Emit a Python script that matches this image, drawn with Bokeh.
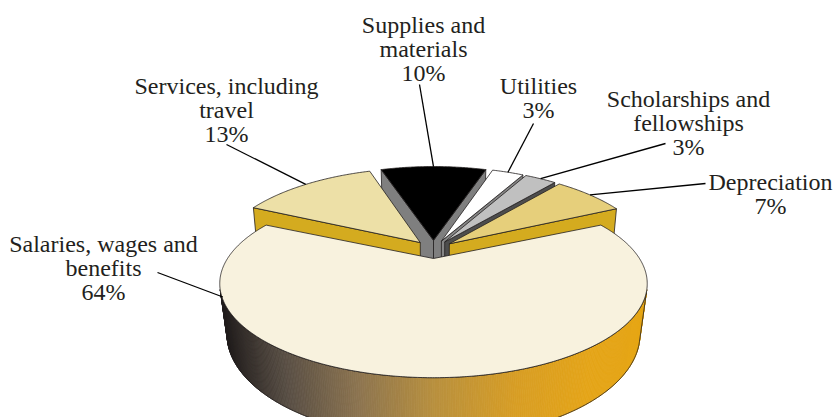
import numpy as np
from bokeh.plotting import figure
from bokeh.models import Range1d
from bokeh.core.properties import value
from bokeh.embed import file_html
from bokeh.resources import INLINE

# ---------------- data ----------------
categories = ["Salaries, wages and benefits", "Depreciation", "Scholarships and fellowships",
              "Utilities", "Supplies and materials", "Services, including travel"]
shares = [64, 7, 3, 3, 10, 13]
label_lines = [["Salaries, wages and", "benefits"], ["Depreciation"],
               ["Scholarships and", "fellowships"], ["Utilities"],
               ["Supplies and", "materials"], ["Services, including", "travel"]]

# ---------------- styles / layout ----------------
top_colors = ["#F8F2DE", "#E6CF7B", "#C0C0C0", "#FFFFFF", "#000000", "#EDE0A7"]
side_colors = [None, "#D4AB1F", "#4D4D4D", "#858585", "#7F7F7F", "#D4AB1F"]
grad_stops = [(0.0, (30, 26, 26)), (0.15, (88, 78, 68)), (0.32, (140, 116, 80)),
              (0.5, (184, 144, 63)), (0.7, (216, 158, 37)), (0.87, (228, 164, 24)),
              (1.0, (230, 166, 20))]
label_pos = [(103, 243), (770, 181), (688, 98), (538, 85), (423, 24), (226, 85)]
line_gap = 24
leader_start = [(157, 272), (705, 183), (665, 143), (533, 123), (419, 84), (226, 144)]
TEXT_COLOR = "#231f20"
EDGE = "#231f20"
EXPLODE = 0.1

# two projection settings: back slices (A) and the front, exploded big slice (B)
VIEW_A = dict(phi=np.radians(26.6), dist=4.7, F=955.0, cx=433.0, cy=248.8, h=0.25)
VIEW_B = dict(phi=np.radians(24.4), dist=3.503, F=702.8, cx=433.0, cy=249.5, h=0.27)


def proj(v, X, Y, Z):
    X = np.asarray(X, float); Y = np.asarray(Y, float); Z = np.asarray(Z, float)
    c, s = np.cos(v["phi"]), np.sin(v["phi"])
    depth = v["dist"] + Z * c - Y * s
    return v["cx"] + v["F"] * X / depth, v["cy"] - v["F"] * (Y * c + Z * s) / depth


def cam_z(v):
    return -v["dist"] * np.cos(v["phi"])


def lerp_color(t):
    t = min(max(t, 0.0), 1.0)
    for (t0, c0), (t1, c1) in zip(grad_stops[:-1], grad_stops[1:]):
        if t <= t1:
            u = (t - t0) / (t1 - t0) if t1 > t0 else 0
            c = [int(round(a + (b - a) * u)) for a, b in zip(c0, c1)]
            return "#%02x%02x%02x" % tuple(c)
    return "#%02x%02x%02x" % grad_stops[-1][1]


p = figure(width=833, height=417, output_backend="svg", toolbar_location=None,
           x_range=Range1d(0, 833), y_range=Range1d(417, 0), min_border=0)
p.axis.visible = False
p.grid.visible = False
p.outline_line_color = None
p.background_fill_color = "white"
p.border_fill_color = "white"

total = float(sum(shares))
spans = [s / total * 360.0 for s in shares]
start = 270.0 - spans[0] / 2.0
slices = []
a = start
for i, sp in enumerate(spans):
    a1, a2 = np.radians(a), np.radians(a + sp)
    b = (a1 + a2) / 2
    ox, oz = EXPLODE * np.cos(b), EXPLODE * np.sin(b)
    slices.append(dict(i=i, a1=a1, a2=a2, b=b, ox=ox, oz=oz,
                       view=VIEW_B if i == 0 else VIEW_A))
    a += sp

order = sorted(slices, key=lambda s: -(s["oz"] + 0.5 * np.sin(s["b"])))

for s in order:
    i, a1, a2, ox, oz, v = s["i"], s["a1"], s["a2"], s["ox"], s["oz"], s["view"]
    H = v["h"]
    cz = cam_z(v)
    n = max(8, int(np.degrees(a2 - a1) * 2))
    th = np.linspace(a1, a2, n)
    for ang, first in ((a1, True), (a2, False)):
        nx, nz = (np.sin(ang), -np.cos(ang)) if first else (-np.sin(ang), np.cos(ang))
        if nx * (-ox) + nz * (cz - oz) > 0:
            Xs = [ox, ox + np.cos(ang), ox + np.cos(ang), ox]
            Zs = [oz, oz + np.sin(ang), oz + np.sin(ang), oz]
            Ys = [0, 0, -H, -H]
            xs, ys = proj(v, Xs, Ys, Zs)
            p.patch(list(xs), list(ys), fill_color=side_colors[i] or "#888888",
                    line_color=EDGE, line_width=0.8)
    Px, Pz = ox + np.cos(th), oz + np.sin(th)
    vis = np.cos(th) * (-Px) + np.sin(th) * (cz - Pz) > 0
    if vis.any():
        idx = np.where(vis)[0]
        t = th[idx[0]:idx[-1] + 1]
        t = np.linspace(t[0], t[-1], 300)
        tx, ty = proj(v, ox + np.cos(t), np.zeros_like(t), oz + np.sin(t))
        bx, by = proj(v, ox + np.cos(t), -H * np.ones_like(t), oz + np.sin(t))
        xmin, xmax = min(tx.min(), bx.min()), max(tx.max(), bx.max())
        sx, sy, sc = [], [], []
        for k in range(len(t) - 1):
            sx.append([tx[k], tx[k + 1], bx[k + 1], bx[k]])
            sy.append([ty[k], ty[k + 1], by[k + 1], by[k]])
            if side_colors[i] is None:
                sc.append(lerp_color(((tx[k] + tx[k + 1]) / 2 - xmin) / (xmax - xmin)))
            else:
                sc.append(side_colors[i])
        p.patches(sx, sy, fill_color=sc, line_color=sc, line_width=0.8)
        p.patch(list(tx) + list(bx[::-1]), list(ty) + list(by[::-1]),
                fill_alpha=0, line_color=EDGE, line_width=0.8)
    xs, ys = proj(v, np.r_[ox, ox + np.cos(th)], np.zeros(n + 1), np.r_[oz, oz + np.sin(th)])
    p.patch(list(xs), list(ys), fill_color=top_colors[i], line_color=EDGE, line_width=0.8)

# leader lines
x0s, y0s, x1s, y1s = [], [], [], []
for s in slices:
    i, v = s["i"], s["view"]
    if i == 0:
        ang = np.radians(192.0)
        ex, ey = proj(v, s["ox"] + np.cos(ang), -0.1, s["oz"] + np.sin(ang))
    else:
        ex, ey = proj(v, s["ox"] + np.cos(s["b"]), 0.0, s["oz"] + np.sin(s["b"]))
    x0s.append(leader_start[i][0]); y0s.append(leader_start[i][1])
    x1s.append(float(ex)); y1s.append(float(ey))
p.segment(x0s, y0s, x1s, y1s, line_color="#000000", line_width=1.3)

# labels
tx_, ty_, tt_ = [], [], []
for i in range(len(categories)):
    lines = label_lines[i] + ["%d%%" % shares[i]]
    lx, ly = label_pos[i]
    for j, ln in enumerate(lines):
        tx_.append(lx); ty_.append(ly + j * line_gap); tt_.append(ln)
p.text(tx_, ty_, text=tt_, text_font=value("Liberation Serif"), text_font_size="24px",
       text_align="center", text_baseline="middle", text_color=TEXT_COLOR)

open("out.html", "w").write(file_html(p, INLINE))
